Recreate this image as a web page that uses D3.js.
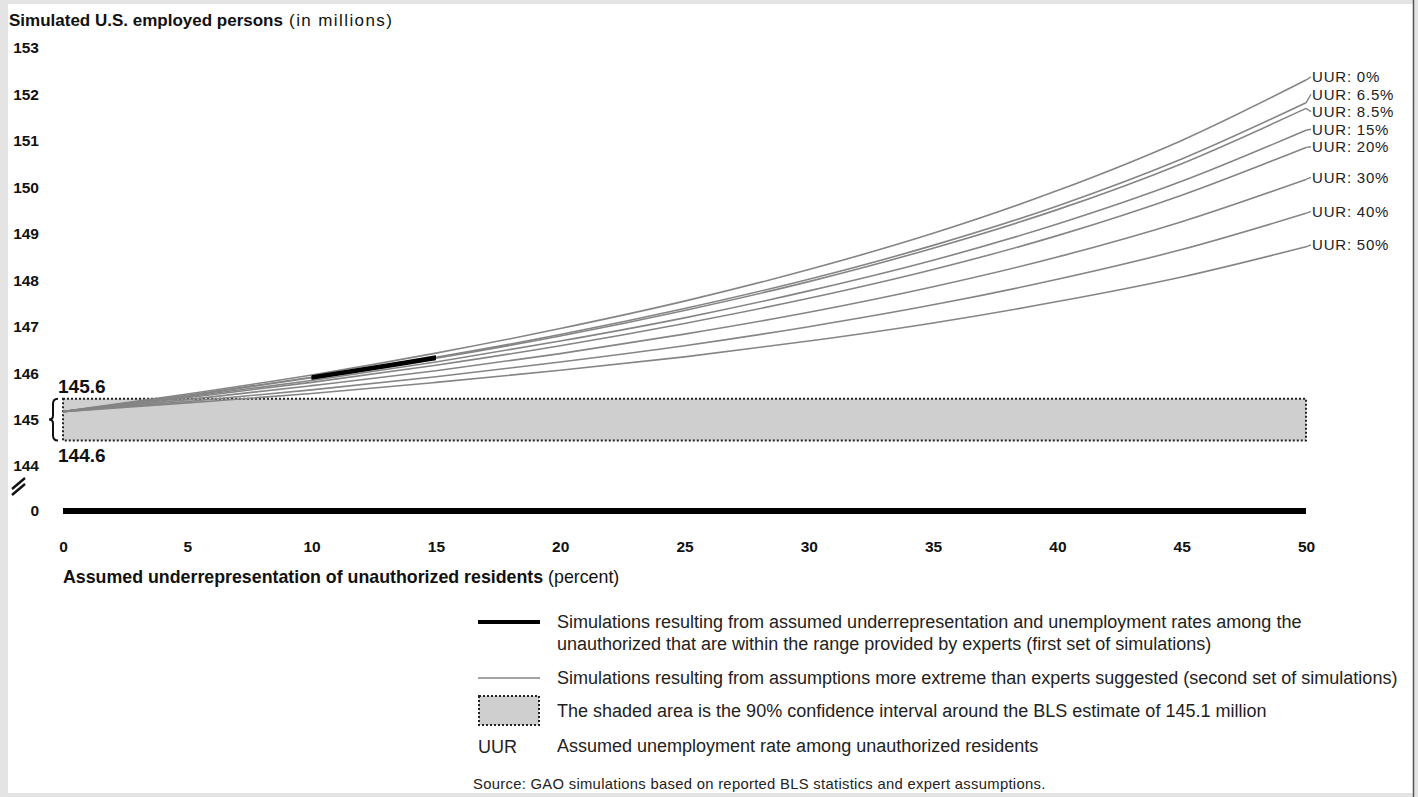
<!DOCTYPE html>
<html>
<head>
<meta charset="utf-8">
<script src="https://cdn.jsdelivr.net/npm/d3@7"></script>
<style>
  body { margin: 0; background: #e4e4e4; }
  svg { display: block; font-family: "Liberation Sans", Arial, Helvetica, sans-serif; }
</style>
</head>
<body>
<div id="chart"></div>
<script>
// assumed underrepresentation (percent)
const underrep = [0, 5, 10, 15, 20, 25, 30, 35, 40, 45, 50];

// simulated employed persons (millions), one array per UUR assumption
const uur0  = [145.17, 145.55, 145.96, 146.43, 146.96, 147.55, 148.23, 149.01, 149.93, 151.01, 152.31];
const uur65 = [145.17, 145.52, 145.91, 146.34, 146.83, 147.39, 148.02, 148.75, 149.60, 150.61, 151.82];
const uur85 = [145.17, 145.51, 145.90, 146.32, 146.80, 147.35, 147.97, 148.69, 149.52, 150.51, 151.70];
const uur15 = [145.17, 145.49, 145.84, 146.24, 146.69, 147.19, 147.77, 148.43, 149.21, 150.13, 151.23];
const uur20 = [145.17, 145.47, 145.80, 146.17, 146.59, 147.07, 147.61, 148.23, 148.96, 149.83, 150.86];
const uur30 = [145.17, 145.43, 145.73, 146.05, 146.42, 146.84, 147.31, 147.86, 148.50, 149.26, 150.17];
const uur40 = [145.17, 145.39, 145.64, 145.92, 146.24, 146.59, 147.00, 147.47, 148.02, 148.66, 149.44];
const uur50 = [145.17, 145.36, 145.56, 145.80, 146.06, 146.35, 146.69, 147.08, 147.54, 148.07, 148.72];

const uurNames = ["UUR: 0%", "UUR: 6.5%", "UUR: 8.5%", "UUR: 15%", "UUR: 20%", "UUR: 30%", "UUR: 40%", "UUR: 50%"];
const uurSeries = [uur0, uur65, uur85, uur15, uur20, uur30, uur40, uur50];

// first set of simulations: expert range
const expertRange = [10, 15];
const expertSeries = [uur65, uur85];

// 90% confidence interval box (as drawn) and its labels
const ciBand = [144.55, 145.45];
const ciLabels = ["145.6", "144.6"];

const yTicks = [144, 145, 146, 147, 148, 149, 150, 151, 152, 153];
const xTicks = [0, 5, 10, 15, 20, 25, 30, 35, 40, 45, 50];

const legendRows = [
  ["Simulations resulting from assumed underrepresentation and unemployment rates among the",
   "unauthorized that are within the range provided by experts (first set of simulations)"],
  ["Simulations resulting from assumptions more extreme than experts suggested (second set of simulations)"],
  ["The shaded area is the 90% confidence interval around the BLS estimate of 145.1 million"],
  ["Assumed unemployment rate among unauthorized residents"]
];

const W = 1418, H = 797;
const x = d3.scaleLinear().domain([0, 50]).range([63, 1306]);
const y = d3.scaleLinear().domain([144, 153]).range([466, 48]);
const zeroY = 511;

const svg = d3.select("#chart").append("svg").attr("width", W).attr("height", H);

// page background / frame
svg.append("rect").attr("x", 8).attr("y", 4).attr("width", 1405).attr("height", 789).attr("fill", "#fff");
svg.append("line").attr("x1", 1413.5).attr("x2", 1413.5).attr("y1", 0).attr("y2", H)
  .attr("stroke", "#555").attr("stroke-width", 1.5);

// title
const title = svg.append("text").attr("x", 9).attr("y", 26).attr("font-size", 17).attr("fill", "#111");
title.append("tspan").attr("font-weight", "bold").text("Simulated U.S. employed persons");
title.append("tspan").attr("letter-spacing", 1.4).text(" (in millions)");

// y axis
const yAxis = svg.append("g").attr("transform", "translate(39,0)")
  .call(d3.axisLeft(y).tickValues(yTicks).tickSize(0).tickPadding(0).tickFormat(d3.format("d")));
yAxis.select(".domain").remove();
yAxis.selectAll("text").attr("font-size", 15.5).attr("font-weight", "bold").attr("fill", "#111")
  .attr("font-family", "Liberation Sans, Arial, sans-serif");

svg.append("text").attr("x", 39).attr("y", zeroY).attr("dy", "0.35em").attr("text-anchor", "end")
  .attr("font-size", 15.5).attr("font-weight", "bold").attr("fill", "#111").text("0");

// axis break
[0, 6].forEach(off => {
  svg.append("line").attr("x1", 12).attr("y1", 489 + off).attr("x2", 25).attr("y2", 478 + off)
    .attr("stroke", "#111").attr("stroke-width", 2.4);
});

// confidence box
svg.append("rect")
  .attr("x", x(0)).attr("y", y(ciBand[1]))
  .attr("width", x(50) - x(0)).attr("height", y(ciBand[0]) - y(ciBand[1]))
  .attr("fill", "#cfcfcf").attr("stroke", "#222").attr("stroke-width", 2)
  .attr("stroke-dasharray", "2,2");

// bracket
const bt = y(ciBand[1]), bb = y(ciBand[0]), bm = (bt + bb) / 2;
svg.append("path")
  .attr("d", `M58,${bt} Q53,${bt} 53,${bt + 5} L53,${bm - 4} Q53,${bm} 49,${bm} Q53,${bm} 53,${bm + 4} L53,${bb - 5} Q53,${bb} 58,${bb}`)
  .attr("fill", "none").attr("stroke", "#111").attr("stroke-width", 2);

svg.append("text").attr("x", 58).attr("y", bt - 6).attr("font-size", 19).attr("font-weight", "bold")
  .attr("fill", "#111").text(ciLabels[0]);
svg.append("text").attr("x", 58).attr("y", bb + 22).attr("font-size", 19).attr("font-weight", "bold")
  .attr("fill", "#111").text(ciLabels[1]);

// simulation curves
const lineFn = d3.line().x((d, i) => x(underrep[i])).y(d => y(d)).curve(d3.curveMonotoneX);

svg.append("g").selectAll("path").data(uurSeries).join("path")
  .attr("d", lineFn).attr("fill", "none").attr("stroke", "#858585").attr("stroke-width", 1.6);

svg.append("clipPath").attr("id", "expertClip").append("rect")
  .attr("x", x(expertRange[0])).attr("width", x(expertRange[1]) - x(expertRange[0]))
  .attr("y", 0).attr("height", H);

svg.append("g").attr("clip-path", "url(#expertClip)")
  .selectAll("path").data(expertSeries).join("path")
  .attr("d", lineFn).attr("fill", "none").attr("stroke", "#000").attr("stroke-width", 4);

// zero line (x axis)
svg.append("line").attr("x1", x(0)).attr("x2", x(50)).attr("y1", zeroY).attr("y2", zeroY)
  .attr("stroke", "#000").attr("stroke-width", 6);

// end labels with simple collision relaxing
const labelGap = 17.5;
const labelPos = uurSeries.map(s => y(s[s.length - 1]) - 2);
for (let k = 0; k < 60; k++) {
  for (let i = 1; i < labelPos.length; i++) {
    const gap = labelPos[i] - labelPos[i - 1];
    if (gap < labelGap) {
      const push = (labelGap - gap) / 2;
      labelPos[i - 1] -= push;
      labelPos[i] += push;
    }
  }
}
const ends = svg.append("g");
uurSeries.forEach((s, i) => {
  ends.append("line").attr("x1", x(50)).attr("y1", y(s[s.length - 1]))
    .attr("x2", x(50) + 5).attr("y2", labelPos[i])
    .attr("stroke", "#858585").attr("stroke-width", 1.4);
  ends.append("text").attr("x", x(50) + 6).attr("y", labelPos[i]).attr("dy", "0.35em")
    .attr("font-size", 15).attr("letter-spacing", 0.8).attr("fill", "#222").text(uurNames[i]);
});

// x axis labels
const xAxis = svg.append("g").attr("transform", `translate(0,${zeroY + 30})`)
  .call(d3.axisBottom(x).tickValues(xTicks).tickSize(0).tickPadding(0));
xAxis.select(".domain").remove();
xAxis.selectAll("text").attr("font-size", 15.5).attr("font-weight", "bold").attr("fill", "#111")
  .attr("font-family", "Liberation Sans, Arial, sans-serif");

const xTitle = svg.append("text").attr("x", 63).attr("y", 583).attr("font-size", 17.8).attr("fill", "#111");
xTitle.append("tspan").attr("font-weight", "bold").text("Assumed underrepresentation of unauthorized residents");
xTitle.append("tspan").text(" (percent)");

// legend
const lg = svg.append("g").attr("font-size", 18).attr("fill", "#222");
lg.append("line").attr("x1", 478).attr("x2", 540).attr("y1", 622).attr("y2", 622)
  .attr("stroke", "#000").attr("stroke-width", 4);
lg.append("line").attr("x1", 478).attr("x2", 540).attr("y1", 678).attr("y2", 678)
  .attr("stroke", "#858585").attr("stroke-width", 1.6);
lg.append("rect").attr("x", 479).attr("y", 696).attr("width", 60).attr("height", 29)
  .attr("fill", "#cfcfcf").attr("stroke", "#222").attr("stroke-width", 2).attr("stroke-dasharray", "2,2");
lg.append("text").attr("x", 478).attr("y", 753).attr("fill", "#222").text("UUR");

const rowY = [628, 684, 717, 752];
legendRows.forEach((rows, i) => {
  rows.forEach((t, j) => {
    lg.append("text").attr("x", 557).attr("y", rowY[i] + j * 22).text(t);
  });
});

svg.append("text").attr("x", 473).attr("y", 789).attr("font-size", 14.8).attr("letter-spacing", 0.3)
  .attr("fill", "#222")
  .text("Source: GAO simulations based on reported BLS statistics and expert assumptions.");
</script>
</body>
</html>
